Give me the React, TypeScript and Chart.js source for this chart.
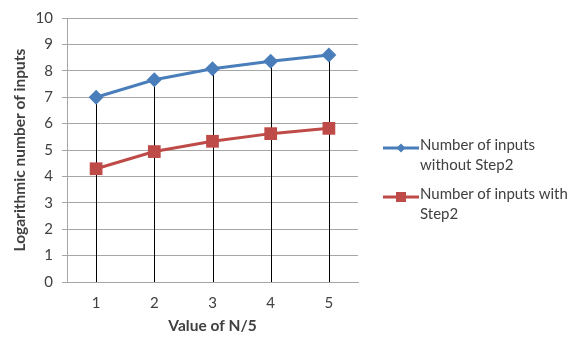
import React, { useEffect, useRef } from "react";
import { Chart, registerables } from "chart.js";

Chart.register(...registerables);

const categories = ["1", "2", "3", "4", "5"];
const withoutStep2 = [7.0, 7.66, 8.08, 8.36, 8.6];
const withStep2 = [4.29, 4.94, 5.33, 5.62, 5.82];
const seriesNames = [["Number of inputs", "without Step2"], ["Number of inputs with", "Step2"]];
const colors = ["#4a7ebb", "#be4b48"];
const FONT = "Lato, 'Open Sans', sans-serif";

const dropLines = {
  id: "dropLines",
  beforeDatasetsDraw(chart: any) {
    const meta = chart.getDatasetMeta(0);
    const y0 = chart.scales.y.getPixelForValue(0);
    const ctx = chart.ctx;
    ctx.save();
    ctx.strokeStyle = "#000";
    ctx.lineWidth = 1;
    meta.data.forEach((pt: any) => {
      const x = Math.round(pt.x) + 0.5;
      ctx.beginPath();
      ctx.moveTo(x, y0);
      ctx.lineTo(x, pt.y);
      ctx.stroke();
    });
    ctx.restore();
  },
};

function LegendIcon({ color, square }: { color: string; square: boolean }) {
  return (
    <svg width="36" height="12" style={{ flex: "none" }}>
      <line x1="0" y1="6" x2="36" y2="6" stroke={color} strokeWidth="3" />
      {square ? (
        <rect x="13" y="1" width="10" height="10" fill={color} />
      ) : (
        <polygon points="18,1.5 22.5,6 18,10.5 13.5,6" fill={color} />
      )}
    </svg>
  );
}

export default function App() {
  const ref = useRef<HTMLCanvasElement>(null);
  useEffect(() => {
    const chart = new Chart(ref.current!, {
      type: "line",
      data: {
        labels: categories,
        datasets: [
          {
            label: seriesNames[0].join(" "),
            data: withoutStep2,
            borderColor: colors[0],
            backgroundColor: colors[0],
            borderWidth: 3,
            pointStyle: "rectRot",
            pointRadius: 7.5,
            pointBorderWidth: 0,
            tension: 0,
          },
          {
            label: seriesNames[1].join(" "),
            data: withStep2,
            borderColor: colors[1],
            backgroundColor: colors[1],
            borderWidth: 3,
            pointStyle: "rect",
            pointRadius: 9,
            pointBorderWidth: 0,
            tension: 0,
          },
        ],
      },
      options: {
        animation: false,
        responsive: false,
        layout: { padding: { top: 17, right: 213, left: 0, bottom: 0 } },
        plugins: { legend: { display: false }, tooltip: { enabled: false } },
        scales: {
          x: {
            offset: true,
            grid: { display: false, drawTicks: false },
            border: { display: true, color: "#a6a6a6", width: 1 },
            ticks: { color: "#404040", font: { family: FONT, size: 15 }, padding: 12 },
            title: {
              display: true,
              text: "Value of N/5",
              color: "#404040",
              font: { family: FONT, size: 15.5, weight: "bold" },
              padding: { top: 2, bottom: 5 },
            },
            afterFit(scale: any) {
              scale.height = 58;
            },
          },
          y: {
            min: 0,
            max: 10,
            ticks: { stepSize: 1, color: "#404040", font: { family: FONT, size: 15 }, padding: 9 },
            grid: { color: "#a6a6a6", lineWidth: 1, tickLength: 5 },
            border: { display: true, color: "#a6a6a6" },
            title: {
              display: true,
              text: "Logarithmic number of inputs",
              color: "#404040",
              font: { family: FONT, size: 15.5, weight: "bold" },
              padding: { top: 11, bottom: 4 },
            },
            afterFit(scale: any) {
              scale.width = 67;
            },
          },
        },
      },
      plugins: [dropLines],
    });
    return () => chart.destroy();
  }, []);

  const legendRow = (i: number, top: number) => (
    <div
      style={{
        position: "absolute",
        left: 383,
        top,
        display: "flex",
        alignItems: "flex-start",
        fontFamily: FONT,
        fontSize: 15,
        lineHeight: "20px",
        color: "#404040",
      }}
    >
      <div style={{ marginTop: 4 }}>
        <LegendIcon color={colors[i]} square={i === 1} />
      </div>
      <div style={{ marginLeft: 1, whiteSpace: "nowrap" }}>
        {seriesNames[i].map((t, k) => (
          <div key={k}>{t}</div>
        ))}
      </div>
    </div>
  );

  return (
    <div style={{ position: "fixed", left: 0, top: 0, width: 571, height: 340, background: "#fff", overflow: "hidden" }}>
      <canvas ref={ref} width={571} height={340} />
      {legendRow(0, 134)}
      {legendRow(1, 183)}
    </div>
  );
}
